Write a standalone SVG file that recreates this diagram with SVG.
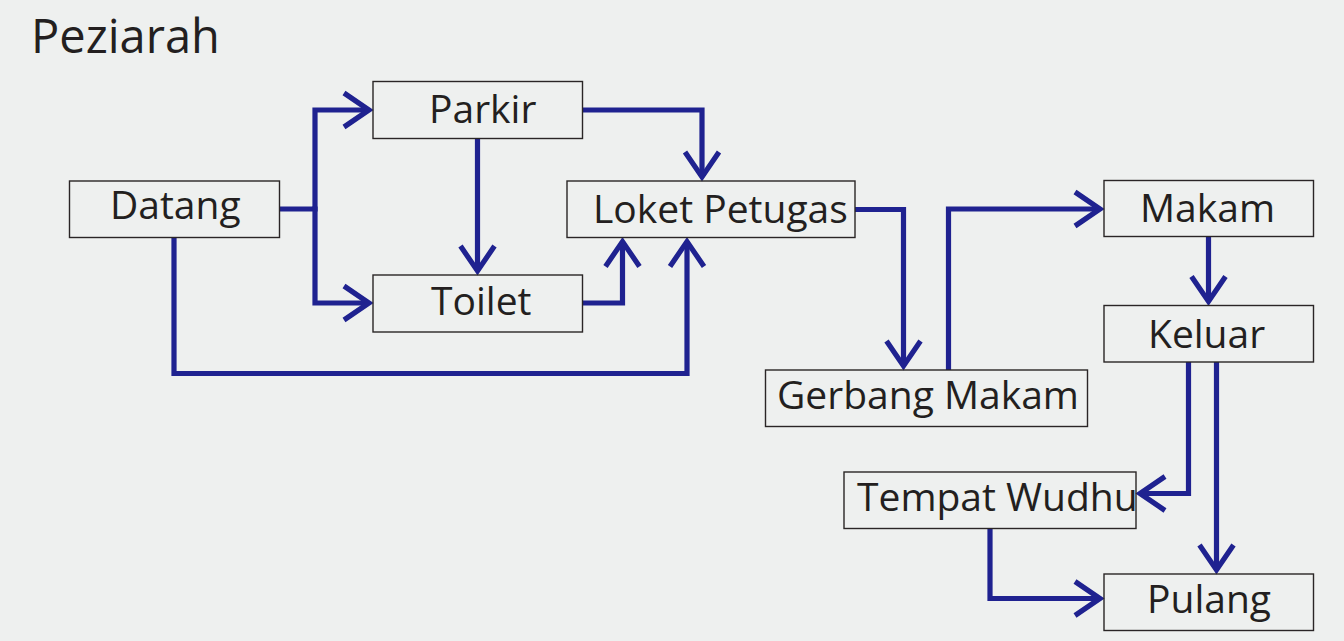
<svg xmlns="http://www.w3.org/2000/svg" width="1344" height="641" viewBox="0 0 1344 641">
<style>
.box{fill:none;stroke:#2a2526;stroke-width:1.4}
.lbl{font-family:"Open Sans","Noto Sans",sans-serif;font-size:39px;fill:#231f20}
.title{font-family:"Open Sans","Noto Sans",sans-serif;font-size:47px;fill:#231f20}
.con{fill:none;stroke:#1f2290;stroke-width:5.2;stroke-linejoin:miter}
</style>
<defs>
<marker id="arr" markerUnits="userSpaceOnUse" orient="auto" refX="0" refY="0" markerWidth="40" markerHeight="40" overflow="visible">
<path d="M-25,-17 L0,0 L-25,17" fill="none" stroke="#1f2290" stroke-width="5.2" stroke-linejoin="miter"/>
</marker>
</defs>
<rect width="1344" height="641" fill="#eef0ef"/>
<text class="title" x="31" y="53">Peziarah</text>
<g id="connectors">
<path class="con" d="M279.5,209 H315 V110 H369" marker-end="url(#arr)"/>
<path class="con" d="M315,206.5 V303 H369" marker-end="url(#arr)"/>
<path class="con" d="M477.5,138.5 V271" marker-end="url(#arr)"/>
<path class="con" d="M582.5,110 H702 V177" marker-end="url(#arr)"/>
<path class="con" d="M582.5,303 H622.5 V241.5" marker-end="url(#arr)"/>
<path class="con" d="M174,237.5 V373.5 H687 V241.5" marker-end="url(#arr)"/>
<path class="con" d="M855,209.5 H903.5 V366" marker-end="url(#arr)"/>
<path class="con" d="M948.5,370 V209 H1100" marker-end="url(#arr)"/>
<path class="con" d="M1208.5,236.5 V301.5" marker-end="url(#arr)"/>
<path class="con" d="M1188.5,362 V493.5 H1140" marker-end="url(#arr)"/>
<path class="con" d="M1216.5,362 V570" marker-end="url(#arr)"/>
<path class="con" d="M990,528.5 V598.5 H1100" marker-end="url(#arr)"/>
</g>
<g id="datang"><rect class="box" x="69.5" y="181" width="210" height="56.5"/><text class="lbl" x="110" y="219">Datang</text></g>
<g id="parkir"><rect class="box" x="373" y="81.5" width="209.5" height="57"/><text class="lbl" x="429" y="122.5">Parkir</text></g>
<g id="toilet"><rect class="box" x="373" y="275" width="209.5" height="57"/><text class="lbl" x="431" y="315">Toilet</text></g>
<g id="loket"><rect class="box" x="567" y="181" width="288" height="56.5"/><text class="lbl" x="593" y="223">Loket Petugas</text></g>
<g id="gerbang"><rect class="box" x="765.5" y="370" width="322" height="56.5"/><text class="lbl" x="777" y="408.5">Gerbang Makam</text></g>
<g id="makam"><rect class="box" x="1104" y="180.5" width="209.5" height="56"/><text class="lbl" x="1140" y="222">Makam</text></g>
<g id="keluar"><rect class="box" x="1104" y="305.5" width="209.5" height="56.5"/><text class="lbl" x="1148" y="348">Keluar</text></g>
<g id="wudhu"><rect class="box" x="844" y="472" width="292" height="56.5"/><text class="lbl" x="857" y="510.5">Tempat Wudhu</text></g>
<g id="pulang"><rect class="box" x="1104" y="574" width="209.5" height="56.5"/><text class="lbl" x="1147" y="613">Pulang</text></g>
</svg>
